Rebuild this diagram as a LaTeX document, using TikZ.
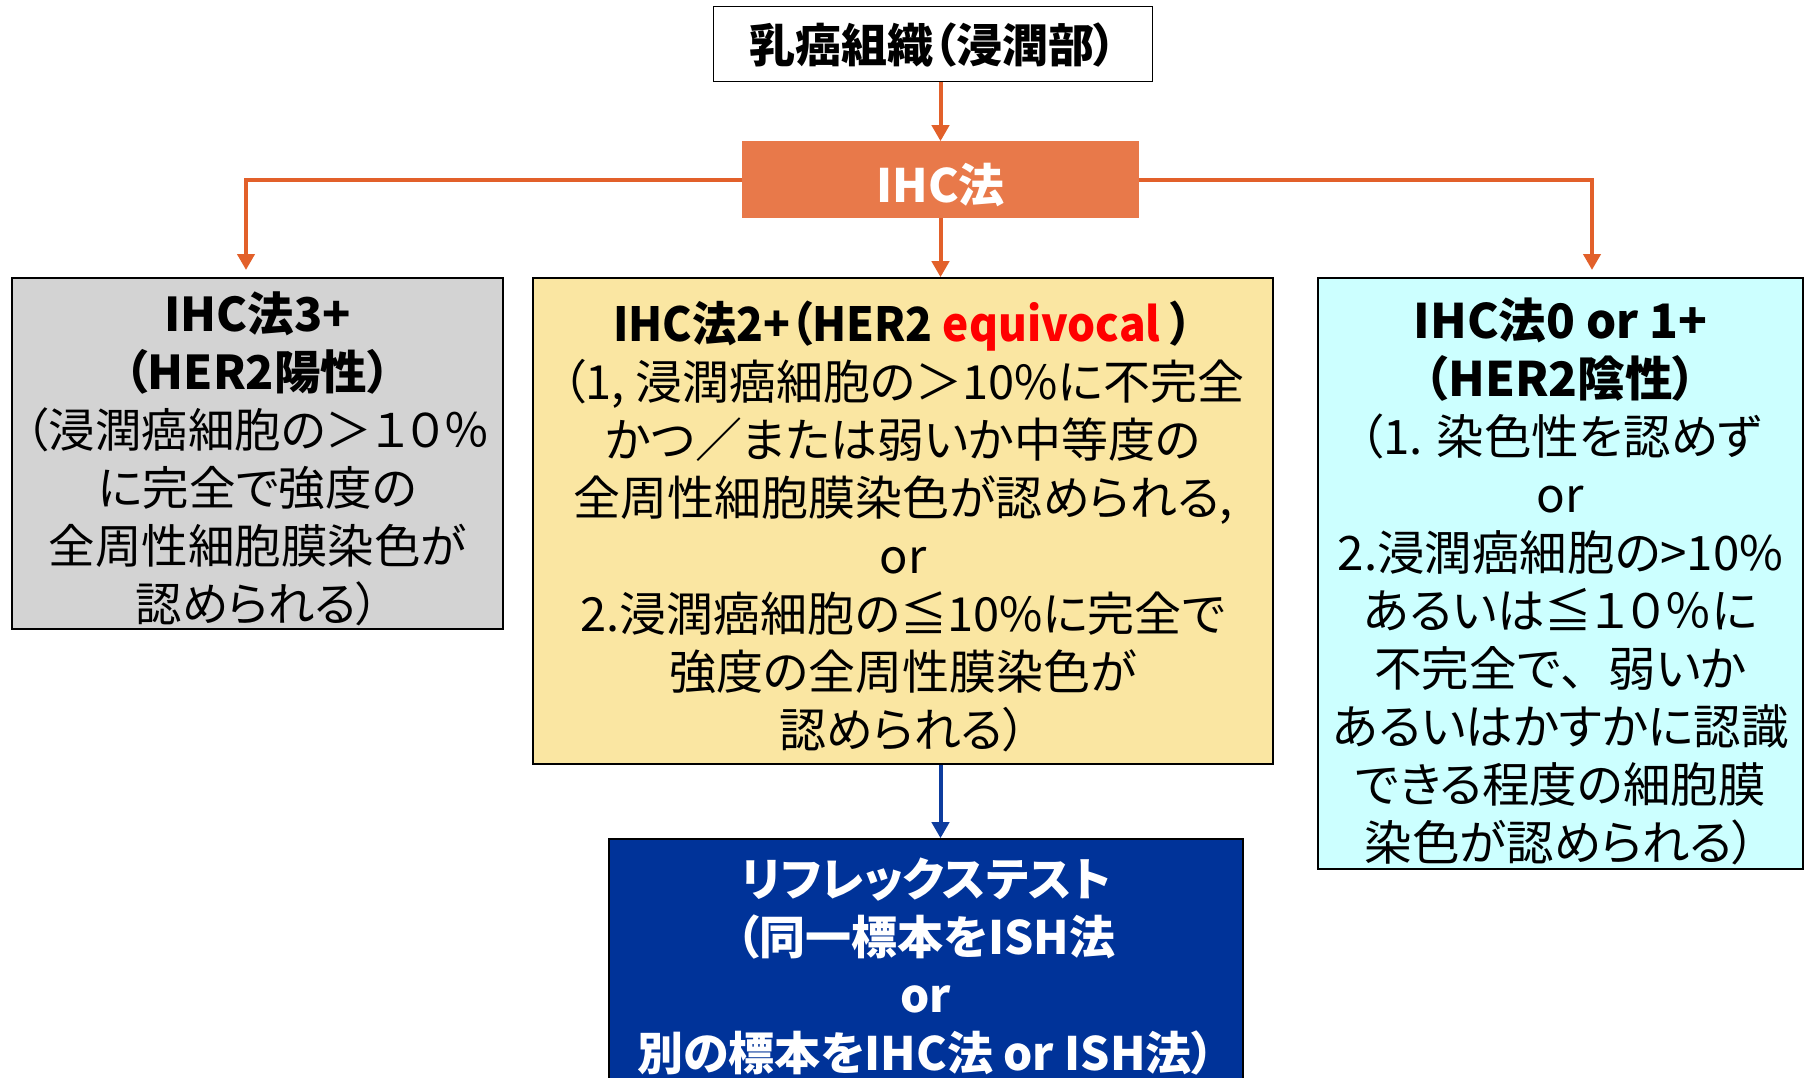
\documentclass[tikz,border=0pt]{standalone}
\usepackage{fontspec}
\setmainfont{Noto Sans CJK JP}[RawFeature=+palt]
\usetikzlibrary{arrows.meta}
\definecolor{oline}{HTML}{E2602A}
\definecolor{ihcfill}{HTML}{E8794A}
\definecolor{grayfill}{HTML}{D3D3D3}
\definecolor{yelfill}{HTML}{FAE6A2}
\definecolor{cyanfill}{HTML}{CCFFFF}
\definecolor{bluefill}{HTML}{003399}
\definecolor{bline}{HTML}{0D3C9E}
\begin{document}
\begin{tikzpicture}[x=1pt,y=-1pt,
  box/.style={draw=black, line width=1.6pt, inner sep=0pt},
  txt/.style={inner sep=0pt, align=center, font=\fontsize{#1}{58}\selectfont},
  txt/.default=46,
  oarrow/.style={draw=oline, line width=4pt, -{Triangle[width=17pt,length=16pt]}},
  barrow/.style={draw=bline, line width=4pt, -{Triangle[width=17pt,length=16pt]}}]
\useasboundingbox (0,0) rectangle (1812,1077);
\fill[white] (0,0) rectangle (1812,1077);
\begin{scope}
\clip (0,0) rectangle (1812,1077);
\node[box, fill=white, minimum width=439pt, minimum height=75pt] (top) at (933,44) {};
\node[txt] (toptxt) at (933,45) {\bfseries 乳癌組織（浸潤部）};
\node[box, draw=ihcfill, fill=ihcfill, minimum width=395pt, minimum height=75pt] (ihc) at (940.5,179.5) {};
\node[txt, text=white] (ihctxt) at (940.5,185) {\bfseries IHC法};
\node[box, fill=grayfill, minimum width=491pt, minimum height=351pt] (left) at (257.5,453.5) {};
\node[txt=46.5] (lefttxt) at (257.5,458.5)
  {\bfseries IHC法3+\\ \bfseries （HER2陽性）\\（浸潤癌細胞の＞１０％\\に完全で強度の\\全周性細胞膜染色が\\認められる）};
\node[box, fill=yelfill, minimum width=740pt, minimum height=486pt] (mid) at (903,521) {};
\node[txt=47] (midtxt) at (903,526)
  {{\bfseries\addfontfeature{FakeStretch=0.94}IHC法2+（HER2 \textcolor{red}{equivocal} ）}\\（1, 浸潤癌細胞の＞10\%に不完全\\かつ／または弱いか中等度の\\全周性細胞膜染色が認められる,\\or\\2.浸潤癌細胞の≦10\%に完全で\\強度の全周性膜染色が\\認められる）};
\node[box, fill=cyanfill, minimum width=485pt, minimum height=591pt] (right) at (1560.5,573.5) {};
\node[txt=47.5] (righttxt) at (1560.5,581.5)
  {\bfseries IHC法0 or 1+\\ \bfseries （HER2陰性）\\（1. 染色性を認めず\\or\\2.浸潤癌細胞の>10\%\\あるいは≦１０％に\\不完全で{\addfontfeature{RawFeature=-palt}、}弱いか\\あるいはかすかに認識\\できる程度の細胞膜\\染色が認められる）};
\node[box, fill=bluefill, minimum width=634pt, minimum height=252pt] (bot) at (926,965) {};
\node[txt, text=white] (bottxt) at (926,967)
  {\bfseries リフレックステスト\\ \bfseries （同一標本をISH法\\ \bfseries or\\ \bfseries 別の標本をIHC法 or ISH法）};
\end{scope}
\coordinate (lt) at (246,270);
\coordinate (rt) at (1592,270);
\draw[oarrow] (ihc.north |- top.south) -- (ihc.north);
\draw[oarrow] (ihc.south) -- (ihc.south |- mid.north);
\draw[oarrow] (ihc.west) -| (lt);
\draw[oarrow] (ihc.east) -| (rt);
\draw[barrow] (ihc.south |- mid.south) -- (ihc.south |- bot.north);
\end{tikzpicture}
\end{document}
